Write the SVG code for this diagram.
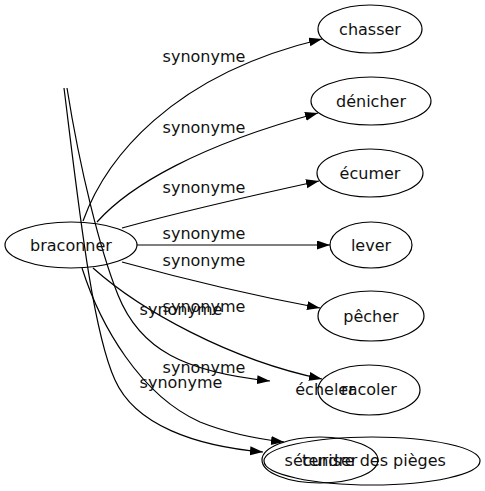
<svg xmlns="http://www.w3.org/2000/svg" width="485" height="491" viewBox="0 0 485 491">
<defs>
<marker id="arr" markerUnits="userSpaceOnUse" markerWidth="14" markerHeight="10" refX="13" refY="4.5" orient="auto">
<path d="M0,0 L13,4.5 L0,9 z" fill="#000"/>
</marker>
<style>
.node ellipse{fill:none;stroke:#000;stroke-width:1.2}
text{font-family:"DejaVu Sans",Verdana,sans-serif;font-size:16px;fill:#111;text-anchor:middle}
.edge path{fill:none;stroke:#000;stroke-width:1.2}
.edge path.a{marker-end:url(#arr)}
</style>
</defs>
<rect width="485" height="491" fill="#fff"/>
<g id="edges" class="edge">
<path class="a" d="M83,221 C105,160 170,75 322,39"/>
<text x="204" y="62">synonyme</text>
<path class="a" d="M97,222 C130,185 200,145 318,113"/>
<text x="204" y="133">synonyme</text>
<path class="a" d="M122,228 C180,212 250,196 319,181"/>
<text x="204" y="193">synonyme</text>
<path class="a" d="M137,245 L330,245"/>
<text x="204" y="239">synonyme</text>
<path class="a" d="M122,262 C180,278 250,295 320,308"/>
<text x="204" y="266">synonyme</text>
<path class="a" d="M93,268 C140,310 230,360 322,379"/>
<text x="204" y="312">synonyme</text>
<path class="a" d="M67,88 C80,170 100,250 118,295 C140,350 185,372 270,381"/>
<text x="181" y="315">synonyme</text>
<path class="a" d="M82,268 C100,325 140,395 200,422 C230,434 258,439 284,442"/>
<text x="204" y="373">synonyme</text>
<path class="a" d="M64,88 C78,200 92,330 115,380 C135,425 195,446 263,452"/>
<text x="181" y="388">synonyme</text>
</g>
<g id="braconner" class="node"><ellipse cx="71" cy="245" rx="66" ry="23"/><text x="71" y="251">braconner</text></g>
<g id="chasser" class="node"><ellipse cx="370" cy="29" rx="52" ry="24"/><text x="370" y="35">chasser</text></g>
<g id="denicher" class="node"><ellipse cx="371" cy="101" rx="60" ry="24"/><text x="371" y="107">dénicher</text></g>
<g id="ecumer" class="node"><ellipse cx="370" cy="173" rx="53" ry="24"/><text x="370" y="179">écumer</text></g>
<g id="lever" class="node"><ellipse cx="371" cy="245" rx="41" ry="23"/><text x="371" y="251">lever</text></g>
<g id="pecher" class="node"><ellipse cx="371" cy="316" rx="53" ry="25"/><text x="371" y="322">pêcher</text></g>
<g id="racoler" class="node"><ellipse cx="369" cy="390" rx="51" ry="25"/><text x="369" y="395">racoler</text></g>
<g id="echeler" class="node"><text x="325" y="395">écheler</text></g>
<g id="tendre" class="node"><ellipse cx="372" cy="461" rx="108" ry="24"/><text x="374" y="466">tendre des pièges</text></g>
<g id="securiser" class="node"><ellipse cx="320" cy="460" rx="58" ry="23"/><text x="321" y="466">sécuriser</text></g>
</svg>
